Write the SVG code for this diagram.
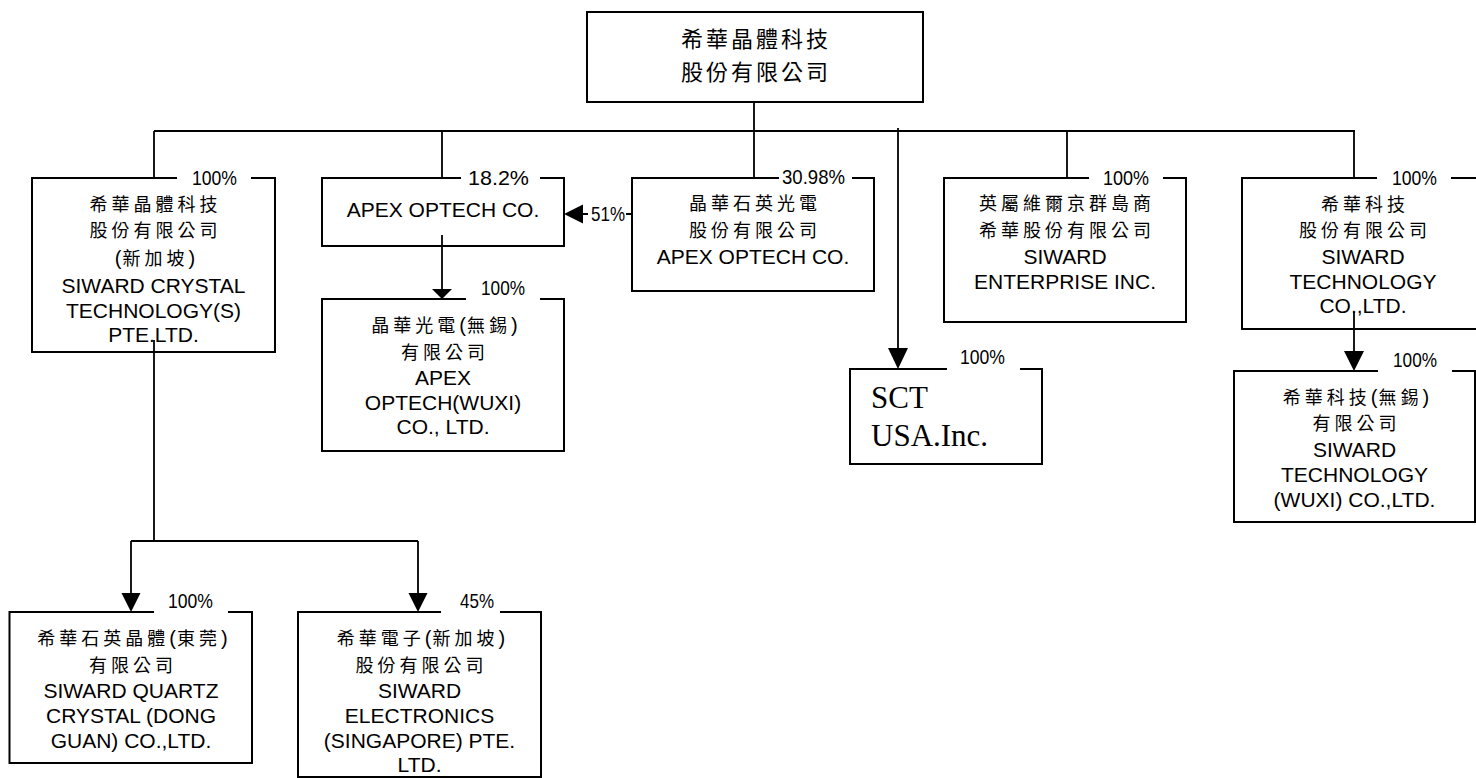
<svg xmlns="http://www.w3.org/2000/svg" width="1476" height="778" viewBox="0 0 1476 778">
<style>
.box{fill:none;stroke:#000;stroke-width:2}
.lbg{fill:#fff}
.cjk{font-family:"Noto Sans CJK TC","Noto Sans CJK SC",sans-serif;font-size:18px;letter-spacing:4px;text-anchor:middle;fill:#000}
.big{font-size:22px;letter-spacing:3px}
.p{font-family:"Liberation Sans",Arial,sans-serif;font-size:20px;letter-spacing:1px}
.lat{font-family:"Liberation Sans",Arial,sans-serif;font-size:21px;text-anchor:middle;fill:#000}
.pct{font-family:"Liberation Sans",Arial,sans-serif;font-size:21px;fill:#000}
.tms{font-family:"Liberation Serif","Times New Roman",serif;font-size:31px;fill:#000}
.ln{stroke:#000;stroke-width:1.8;fill:none}
.ah{fill:#000}
</style>
<rect width="1476" height="778" fill="#fff"/>

<g id="n0">
<rect class="box" x="587" y="12" width="336" height="90"/>
<text class="cjk big" x="756" y="47">希華晶體科技</text>
<text class="cjk big" x="756" y="80">股份有限公司</text>
</g>

<g id="n1">
<rect class="box" x="32" y="178" width="243" height="174"/>
<rect class="lbg" x="177" y="168" width="74" height="19"/>
<text class="pct" x="192" y="185" textLength="45" lengthAdjust="spacingAndGlyphs">100%</text>
<text class="cjk" x="155.5" y="210.5">希華晶體科技</text>
<text class="cjk" x="155.5" y="237">股份有限公司</text>
<text class="cjk" x="155.5" y="265"><tspan class="p">(</tspan>新加坡<tspan class="p">)</tspan></text>
<text class="lat" x="153.5" y="293">SIWARD CRYSTAL</text>
<text class="lat" x="153.5" y="317.5">TECHNOLOGY(S)</text>
<text class="lat" x="153.5" y="342">PTE.LTD.</text>
</g>

<g id="n2">
<rect class="box" x="322" y="178" width="242" height="68"/>
<rect class="lbg" x="461" y="168" width="79" height="19"/>
<text class="pct" x="468" y="185" textLength="61" lengthAdjust="spacingAndGlyphs">18.2%</text>
<text class="lat" x="443" y="217">APEX OPTECH CO.</text>
</g>

<g id="n3">
<rect class="box" x="632" y="178" width="242" height="113"/>
<rect class="lbg" x="779" y="168" width="73" height="19"/>
<text class="pct" x="782" y="184" textLength="63" lengthAdjust="spacingAndGlyphs">30.98%</text>
<text class="cjk" x="755" y="210">晶華石英光電</text>
<text class="cjk" x="755" y="237">股份有限公司</text>
<text class="lat" x="753" y="263.5">APEX OPTECH CO.</text>
</g>

<g id="n4">
<rect class="box" x="944" y="178" width="242" height="144"/>
<rect class="lbg" x="1089" y="168" width="74" height="19"/>
<text class="pct" x="1103" y="185" textLength="46" lengthAdjust="spacingAndGlyphs">100%</text>
<text class="cjk" x="1067" y="210">英屬維爾京群島商</text>
<text class="cjk" x="1067" y="237">希華股份有限公司</text>
<text class="lat" x="1065" y="264">SIWARD</text>
<text class="lat" x="1065" y="288.5">ENTERPRISE INC.</text>
</g>

<g id="n5">
<rect class="box" x="1242" y="178" width="242" height="151"/>
<rect class="lbg" x="1377" y="168" width="74" height="19"/>
<text class="pct" x="1392" y="185" textLength="45" lengthAdjust="spacingAndGlyphs">100%</text>
<text class="cjk" x="1365" y="210.5">希華科技</text>
<text class="cjk" x="1365" y="237">股份有限公司</text>
<text class="lat" x="1363" y="264">SIWARD</text>
<text class="lat" x="1363" y="288.5">TECHNOLOGY</text>
<text class="lat" x="1363" y="313">CO.,LTD.</text>
</g>

<g id="n6">
<rect class="box" x="322" y="299" width="242" height="152"/>
<rect class="lbg" x="466" y="280" width="74" height="21"/>
<text class="pct" x="481" y="295" textLength="44" lengthAdjust="spacingAndGlyphs">100%</text>
<text class="cjk" x="445" y="332">晶華光電<tspan class="p">(</tspan>無錫<tspan class="p">)</tspan></text>
<text class="cjk" x="445" y="359">有限公司</text>
<text class="lat" x="443" y="385">APEX</text>
<text class="lat" x="443" y="410">OPTECH(WUXI)</text>
<text class="lat" x="443" y="434">CO., LTD.</text>
</g>

<g id="n7">
<rect class="box" x="850" y="369" width="192" height="95"/>
<rect class="lbg" x="947" y="349" width="73" height="22"/>
<text class="pct" x="960" y="364" textLength="45" lengthAdjust="spacingAndGlyphs">100%</text>
<text class="tms" x="871" y="408">SCT</text>
<text class="tms" x="871" y="446">USA.Inc.</text>
</g>

<g id="n8">
<rect class="box" x="1234" y="371" width="241" height="151"/>
<rect class="lbg" x="1378" y="352" width="74" height="21"/>
<text class="pct" x="1393" y="367" textLength="44" lengthAdjust="spacingAndGlyphs">100%</text>
<text class="cjk" x="1356.5" y="403.5">希華科技<tspan class="p">(</tspan>無錫<tspan class="p">)</tspan></text>
<text class="cjk" x="1356.5" y="430">有限公司</text>
<text class="lat" x="1354.5" y="456.5">SIWARD</text>
<text class="lat" x="1354.5" y="481.5">TECHNOLOGY</text>
<text class="lat" x="1354.5" y="506.5">(WUXI) CO.,LTD.</text>
</g>

<g id="n9">
<rect class="box" x="9.5" y="612" width="242.5" height="151"/>
<rect class="lbg" x="154" y="593" width="74" height="21"/>
<text class="pct" x="168" y="608" textLength="45" lengthAdjust="spacingAndGlyphs">100%</text>
<text class="cjk" x="133" y="645">希華石英晶體<tspan class="p">(</tspan>東莞<tspan class="p">)</tspan></text>
<text class="cjk" x="133" y="672">有限公司</text>
<text class="lat" x="131" y="697.5">SIWARD QUARTZ</text>
<text class="lat" x="131" y="722.5">CRYSTAL (DONG</text>
<text class="lat" x="131" y="747.5">GUAN) CO.,LTD.</text>
</g>

<g id="n10">
<rect class="box" x="298" y="612" width="243" height="165"/>
<rect class="lbg" x="441" y="593" width="59" height="21"/>
<text class="pct" x="460" y="608" textLength="34" lengthAdjust="spacingAndGlyphs">45%</text>
<text class="cjk" x="421.5" y="645">希華電子<tspan class="p">(</tspan>新加坡<tspan class="p">)</tspan></text>
<text class="cjk" x="421.5" y="672">股份有限公司</text>
<text class="lat" x="419.5" y="697.5">SIWARD</text>
<text class="lat" x="419.5" y="722.5">ELECTRONICS</text>
<text class="lat" x="419.5" y="747.5">(SINGAPORE) PTE.</text>
<text class="lat" x="419.5" y="772">LTD.</text>
</g>

<g id="connectors">
<path class="ln" d="M754,102V131M154,131H1355M154,131V178M442,131V178M754,131V178M1067,131V178M1354,131V178"/>
<path class="ln" d="M898,128V350"/>
<polygon class="ah" points="888,348 908,348 898,369"/>
<path class="ln" d="M442,235V290"/>
<polygon class="ah" points="432,289 452,289 442,299"/>
<path class="ln" d="M632,214H583"/>
<polygon class="ah" points="583,204.5 583,223.5 564,214"/>
<rect class="lbg" x="588" y="204" width="38" height="20"/>
<text class="pct" x="591" y="221" textLength="34" lengthAdjust="spacingAndGlyphs">51%</text>
<path class="ln" d="M1354,312V352"/>
<polygon class="ah" points="1344,351 1364,351 1354,371"/>
<path class="ln" d="M154,340V541M131,541H418M131,541V594M418,541V594"/>
<polygon class="ah" points="121.5,593 140.5,593 131,612"/>
<polygon class="ah" points="408.5,593 427.5,593 418,612"/>
</g>
</svg>
